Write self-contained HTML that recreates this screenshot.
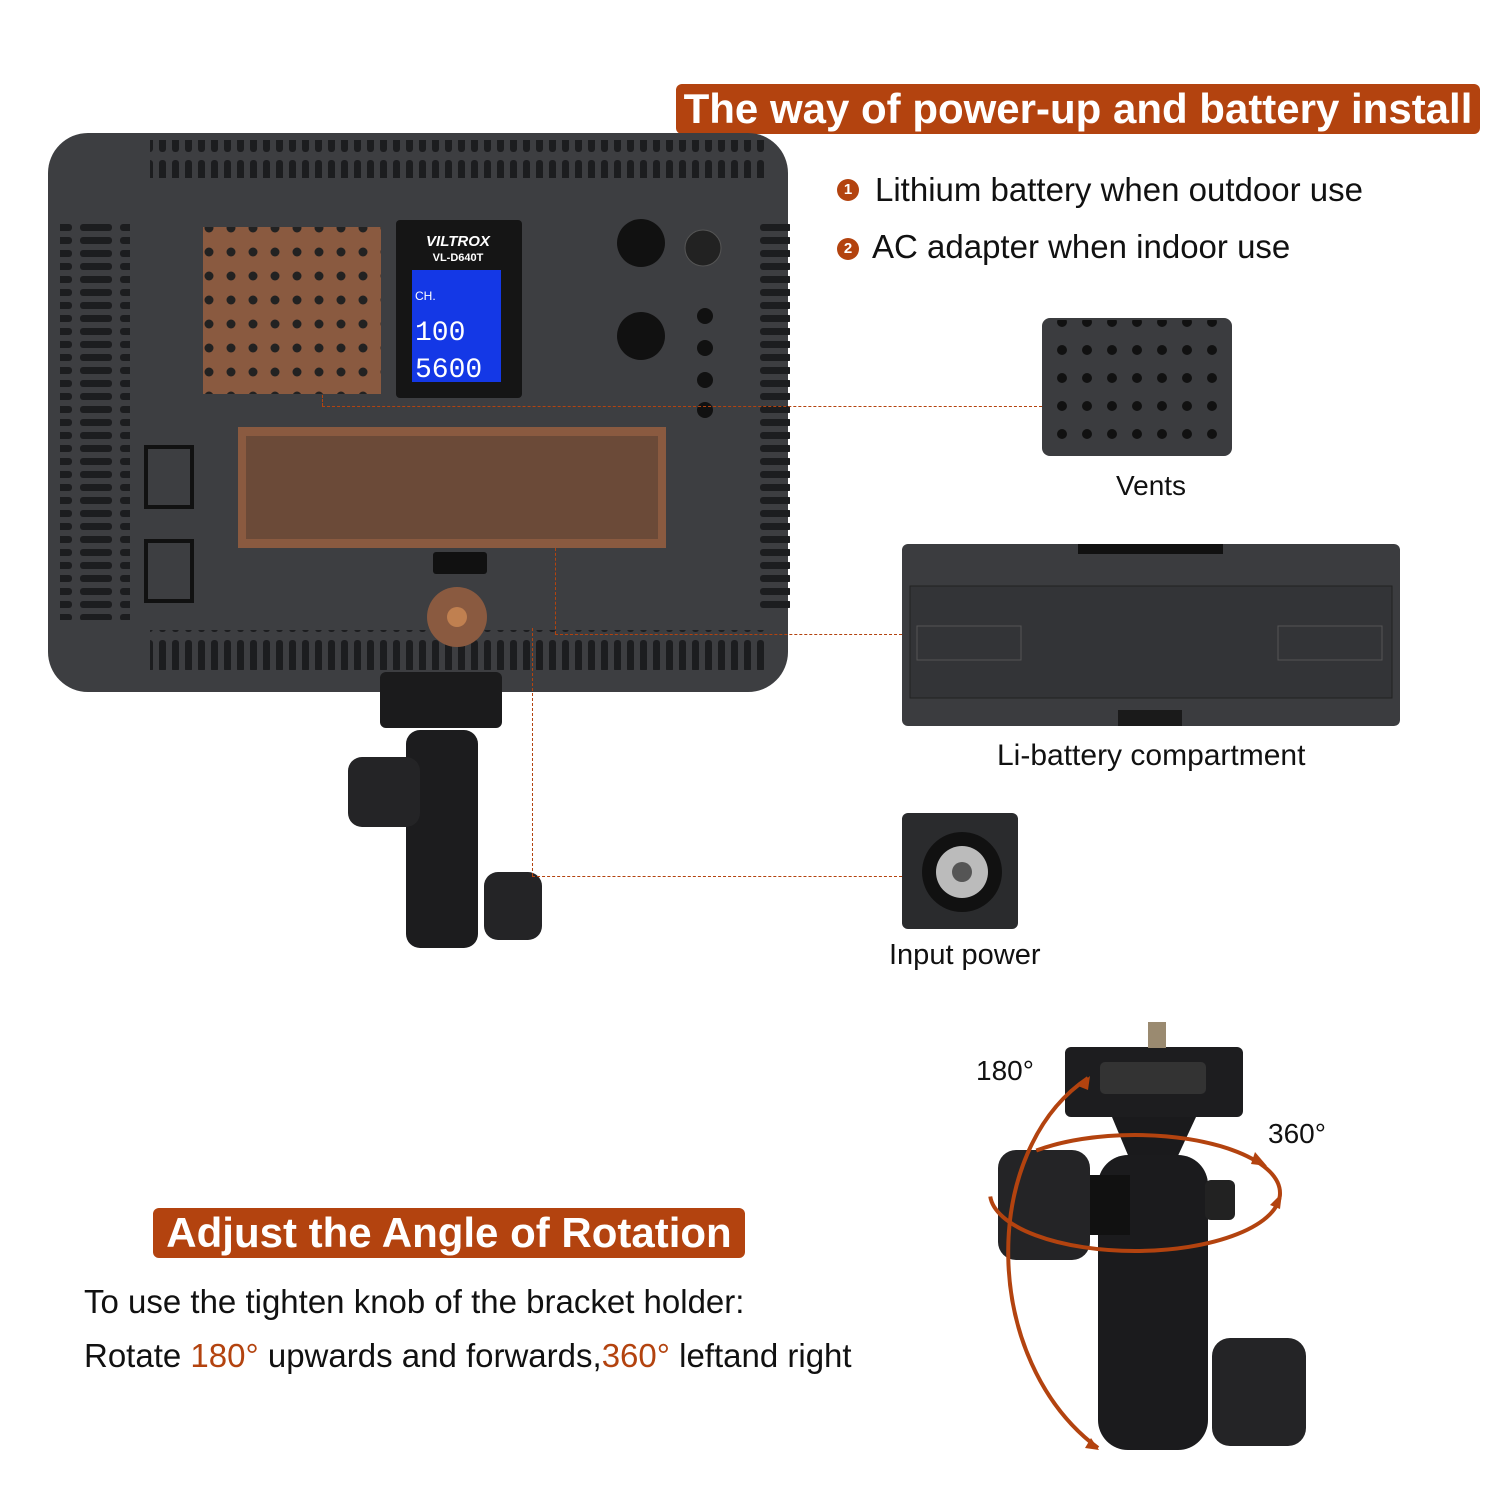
<!DOCTYPE html>
<html><head><meta charset="utf-8"><style>
body{margin:0;width:1500px;height:1500px;background:#fff;position:relative;overflow:hidden;font-family:"Liberation Sans","DejaVu Sans",sans-serif;}
.abs{position:absolute}
.banner{background:#b3430f;color:#fff;font-weight:bold;border-radius:6px;text-align:center;white-space:nowrap}
.t{position:absolute;color:#111;white-space:nowrap}
.o{color:#b3430f}
.dash{position:absolute;border-top:1px dashed #b3430f}
.dashv{position:absolute;border-left:1px dashed #b3430f}
</style></head><body>

<div class="abs banner" style="left:676px;top:84px;width:804px;height:50px;font-size:42px;line-height:50px">The way of power-up and battery install</div>
<div class="abs" style="left:837px;top:179px;width:22px;height:22px;border-radius:50%;background:#b3430f;color:#fff;font-size:15px;text-align:center;line-height:22px;font-weight:bold">1</div>
<div class="t" style="left:875px;top:171px;font-size:33px">Lithium battery when outdoor use</div>
<div class="abs" style="left:837px;top:238px;width:22px;height:22px;border-radius:50%;background:#b3430f;color:#fff;font-size:15px;text-align:center;line-height:22px;font-weight:bold">2</div>
<div class="t" style="left:872px;top:228px;font-size:33px">AC adapter when indoor use</div>

<svg class="abs" style="left:0;top:0" width="1500" height="1500">
<defs>
<pattern id="rib" width="13" height="40" patternUnits="userSpaceOnUse"><rect x="3" y="0" width="7" height="32" rx="3" fill="#1c1d1f"/></pattern>
<pattern id="ribv" width="40" height="13" patternUnits="userSpaceOnUse"><rect x="0" y="3" width="32" height="7" rx="3" fill="#1c1d1f"/></pattern>
<pattern id="dots" width="22" height="24" patternUnits="userSpaceOnUse"><circle cx="11" cy="12" r="4.5" fill="#222"/></pattern>
<pattern id="dots2" width="25" height="28" patternUnits="userSpaceOnUse"><circle cx="12" cy="14" r="5" fill="#111"/></pattern>
</defs>
<rect x="48" y="133" width="740" height="559" rx="40" fill="#3d3e41"/>
<rect x="150" y="140" width="620" height="38" fill="url(#rib)"/>
<rect x="150" y="630" width="620" height="40" fill="url(#rib)"/>
<rect x="60" y="220" width="70" height="400" fill="url(#ribv)"/>
<rect x="760" y="220" width="30" height="390" fill="url(#ribv)"/>
<rect x="203" y="227" width="178" height="167" fill="#8a5a40"/>
<rect x="203" y="227" width="178" height="167" fill="url(#dots)"/>
<rect x="396" y="220" width="126" height="178" rx="4" fill="#151515"/>
<text x="458" y="246" fill="#fff" font-size="15" font-weight="bold" font-style="italic" text-anchor="middle">VILTROX</text>
<text x="458" y="261" fill="#fff" font-size="11" font-weight="bold" text-anchor="middle">VL-D640T</text>
<rect x="412" y="270" width="89" height="112" fill="#1438e6"/>
<text x="415" y="300" fill="#fff" font-size="12">CH.</text>
<text x="415" y="340" fill="#fff" font-size="28" font-family="Liberation Mono">100</text>
<text x="415" y="377" fill="#fff" font-size="28" font-family="Liberation Mono">5600</text>
<circle cx="641" cy="243" r="24" fill="#111"/><circle cx="703" cy="248" r="18" fill="#222" stroke="#555"/>
<circle cx="641" cy="336" r="24" fill="#111"/>
<circle cx="705" cy="316" r="8" fill="#111"/><circle cx="705" cy="348" r="8" fill="#111"/><circle cx="705" cy="380" r="8" fill="#111"/><circle cx="705" cy="410" r="8" fill="#111"/>
<rect x="238" y="427" width="428" height="121" fill="#8a5a40"/>
<rect x="246" y="436" width="412" height="103" fill="#6b4a38"/>
<rect x="146" y="447" width="46" height="60" fill="none" stroke="#111" stroke-width="4"/>
<rect x="146" y="541" width="46" height="60" fill="none" stroke="#111" stroke-width="4"/>
<rect x="433" y="552" width="54" height="22" rx="3" fill="#111"/>
<circle cx="457" cy="617" r="30" fill="#8a5a40"/><circle cx="457" cy="617" r="10" fill="#c08050"/>
<rect x="380" y="672" width="122" height="56" rx="6" fill="#1b1b1c"/>
<rect x="406" y="730" width="72" height="218" rx="14" fill="#1c1c1e"/>
<rect x="348" y="757" width="72" height="70" rx="14" fill="#242426"/>
<rect x="484" y="872" width="58" height="68" rx="14" fill="#242426"/>
<rect x="1042" y="318" width="190" height="138" rx="8" fill="#3b3c3f"/>
<rect x="1046" y="320" width="186" height="136" fill="url(#dots2)"/>
<rect x="902" y="544" width="498" height="182" rx="6" fill="#3b3c3f"/>
<rect x="1078" y="544" width="145" height="10" fill="#111"/>
<rect x="910" y="586" width="482" height="112" fill="#333437" stroke="#222"/>
<rect x="917" y="626" width="104" height="34" fill="none" stroke="#555"/>
<rect x="1278" y="626" width="104" height="34" fill="none" stroke="#555"/>
<rect x="1118" y="710" width="64" height="16" fill="#1a1a1a"/>
<rect x="902" y="813" width="116" height="116" rx="6" fill="#2a2b2d"/>
<circle cx="962" cy="872" r="40" fill="#111"/><circle cx="962" cy="872" r="26" fill="#bbb"/><circle cx="962" cy="872" r="10" fill="#555"/>
<rect x="1065" y="1047" width="178" height="70" rx="6" fill="#1d1d1f"/>
<rect x="1100" y="1062" width="106" height="32" rx="5" fill="#333"/>
<rect x="1148" y="1022" width="18" height="26" fill="#9a8a70"/>
<polygon points="1112,1117 1196,1117 1176,1160 1130,1160" fill="#1a1a1c"/>
<rect x="1098" y="1155" width="110" height="295" rx="30" fill="#1b1b1d"/>
<rect x="998" y="1150" width="92" height="110" rx="18" fill="#242426"/>
<rect x="1090" y="1175" width="40" height="60" fill="#111"/>
<rect x="1205" y="1180" width="30" height="40" rx="6" fill="#222"/>
<rect x="1212" y="1338" width="94" height="108" rx="18" fill="#242426"/>
<path d="M1088,1078 C980,1150 980,1360 1098,1448" fill="none" stroke="#b3430f" stroke-width="4"/>
<path d="M1085,1448 l14,2 -8,-12z" fill="#b3430f"/>
<path d="M1078,1086 l12,-10 -2,14z" fill="#b3430f"/>
<ellipse cx="1135" cy="1193" rx="145" ry="58" fill="none" stroke="#b3430f" stroke-width="4" stroke-dasharray="330 70 600"/>
<path d="M1255,1152 l12,14 -16,-2z" fill="#b3430f"/>
<path d="M1270,1205 l12,-12 -2,16z" fill="#b3430f"/>
</svg>

<div class="dash" style="left:322px;top:406px;width:720px"></div>
<div class="dashv" style="left:322px;top:395px;height:11px"></div>
<div class="dash" style="left:555px;top:634px;width:347px"></div>
<div class="dashv" style="left:555px;top:548px;height:86px"></div>
<div class="dash" style="left:532px;top:876px;width:370px"></div>
<div class="dashv" style="left:532px;top:628px;height:248px"></div>

<div class="t" style="left:1116px;top:470px;font-size:28px">Vents</div>
<div class="t" style="left:997px;top:739px;font-size:30px">Li-battery compartment</div>
<div class="t" style="left:889px;top:939px;font-size:29px">Input power</div>
<div class="t" style="left:976px;top:1055px;font-size:28px">180°</div>
<div class="t" style="left:1268px;top:1118px;font-size:28px">360°</div>

<div class="abs banner" style="left:153px;top:1208px;width:592px;height:50px;font-size:42px;line-height:50px">Adjust the Angle of Rotation</div>
<div class="t" style="left:84px;top:1283px;font-size:33px">To use the tighten knob of the bracket holder:</div>
<div class="t" style="left:84px;top:1337px;font-size:33px">Rotate <span class="o">180°</span> upwards and forwards,<span class="o">360°</span> leftand right</div>
</body></html>
